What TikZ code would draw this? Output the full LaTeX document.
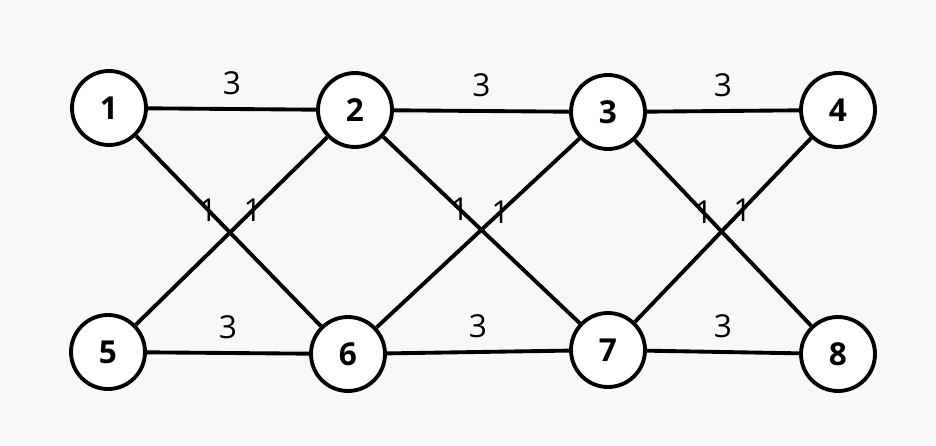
\documentclass[tikz,border=0pt]{standalone}
\usepackage{fontspec}
\setmainfont{Open Sans}
\definecolor{bggray}{HTML}{F8F8F8}
\begin{document}
\begin{tikzpicture}[x=0.02cm,y=-0.02cm,line width=2.2pt,
  main node/.style={draw,circle,fill=white,line width=2.2pt,minimum size=1.48cm,inner sep=0pt,font=\bfseries\fontsize{18}{18}\selectfont},
  wlabel/.style={midway,above=0.25cm,inner sep=0pt}]
\fill[bggray] (0,0) rectangle (936,446);
\node[main node] (1) at (109,108) {1};
\node[main node] (2) at (355,110) {2};
\node[main node] (3) at (608,112) {3};
\node[main node] (4) at (838,110) {4};
\node[main node] (5) at (108,352) {5};
\node[main node] (6) at (348,354) {6};
\node[main node] (7) at (608,350) {7};
\node[main node] (8) at (838,354) {8};
\path[every node/.style={font=\fontsize{18}{18}\selectfont}]
(1) edge node[wlabel] {3} (2)
(2) edge node[wlabel] {3} (3)
(3) edge node[wlabel] {3} (4)
(5) edge node[wlabel] {3} (6)
(6) edge node[wlabel] {3} (7)
(7) edge node[wlabel] {3} (8)
(1) edge node[pos=0.39] {1} (6)
(2) edge node[pos=0.39] {1} (5)
(2) edge node[pos=0.39] {1} (7)
(3) edge node[pos=0.39] {1} (6)
(3) edge node[pos=0.39] {1} (8)
(4) edge node[pos=0.39] {1} (7);
\end{tikzpicture}
\end{document}
